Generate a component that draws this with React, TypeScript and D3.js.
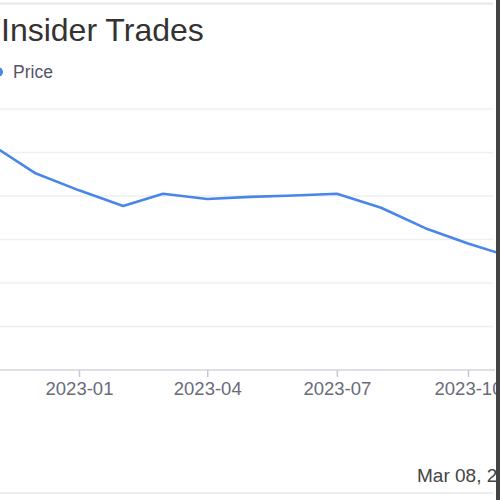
import React from "react";
import * as d3 from "d3";

const dates: string[] = [
  "2022-11-01", "2022-12-01", "2023-01-01", "2023-02-01", "2023-03-01", "2023-04-01",
  "2023-05-01", "2023-06-01", "2023-07-01", "2023-08-01", "2023-09-01", "2023-10-01", "2023-11-01",
];
const prices: number[] = [51.7, 45.3, 41.3, 37.7, 40.5, 39.3, 39.8, 40.1, 40.5, 37.3, 32.6, 29.1, 25.9];
const tickDates: string[] = ["2023-01-01", "2023-04-01", "2023-07-01", "2023-10-01"];
const gridValues: number[] = [10, 20, 30, 40, 50, 60];
const title = "Insider Trades";
const legendLabel = "Price";
const footerText = "Mar 08, 2024";

const parse = d3.timeParse("%Y-%m-%d");

export default function App() {
  const W = 500;
  const H = 500;
  const x = d3
    .scaleTime()
    .domain([parse("2023-01-01") as Date, parse("2023-10-01") as Date])
    .range([79, 468]);
  const y = d3.scaleLinear().domain([0, 60]).range([370, 109]);
  const fmt = d3.timeFormat("%Y-%m");

  const pts = dates.map((d, i) => ({ d: parse(d) as Date, v: prices[i] }));
  const line = d3
    .line<{ d: Date; v: number }>()
    .x((p) => x(p.d))
    .y((p) => y(p.v));

  const axisRef = React.useRef<SVGGElement>(null);
  React.useEffect(() => {
    if (!axisRef.current) return;
    const g = d3.select(axisRef.current);
    g.selectAll("*").remove();
    g.call(
      d3
        .axisBottom(x)
        .tickValues(tickDates.map((t) => parse(t) as Date))
        .tickFormat((d) => fmt(d as Date))
        .tickSize(7)
        .tickPadding(5)
    );
    g.select(".domain").remove();
    g.selectAll(".tick line").attr("stroke", "#c8c8d4").attr("stroke-width", 1.5);
    g.selectAll(".tick text")
      .attr("fill", "#6a6a7a")
      .attr("font-size", 18.5)
      .attr("font-family", "Arial, 'Liberation Sans', sans-serif");
  }, []);

  return (
    <svg
      width={W}
      height={H}
      style={{ position: "fixed", left: 0, top: 0, background: "#fff" }}
      fontFamily="Arial, 'Liberation Sans', sans-serif"
    >
      <rect x={0} y={0} width={W} height={H} fill="#fff" />
      <line x1={0} x2={493} y1={3.5} y2={3.5} stroke="#e6e6ee" strokeWidth={2} />
      <text x={1} y={41} fontSize={32} fill="#333">
        {title}
      </text>
      <circle cx={-2} cy={72} r={5} fill="#4a86e8" />
      <text x={13} y={78} fontSize={17.5} fill="#55556a">
        {legendLabel}
      </text>
      {gridValues.map((v) => (
        <line key={v} x1={0} x2={493} y1={y(v)} y2={y(v)} stroke="#efeff3" strokeWidth={1.5} />
      ))}
      <line x1={0} x2={495} y1={y(0)} y2={y(0)} stroke="#d4d4de" strokeWidth={1.5} />
      <g ref={axisRef} transform={`translate(0,${y(0)})`} />
      <path d={line(pts) || ""} fill="none" stroke="#4a86e8" strokeWidth={2.6} strokeLinejoin="round" />
      <text x={417} y={482} fontSize={19} fill="#444">
        {footerText}
      </text>
      <line x1={0} x2={493} y1={493} y2={493} stroke="#e6e6ee" strokeWidth={1.5} />
      <rect x={496} y={0} width={4} height={H} fill="#444" />
    </svg>
  );
}
